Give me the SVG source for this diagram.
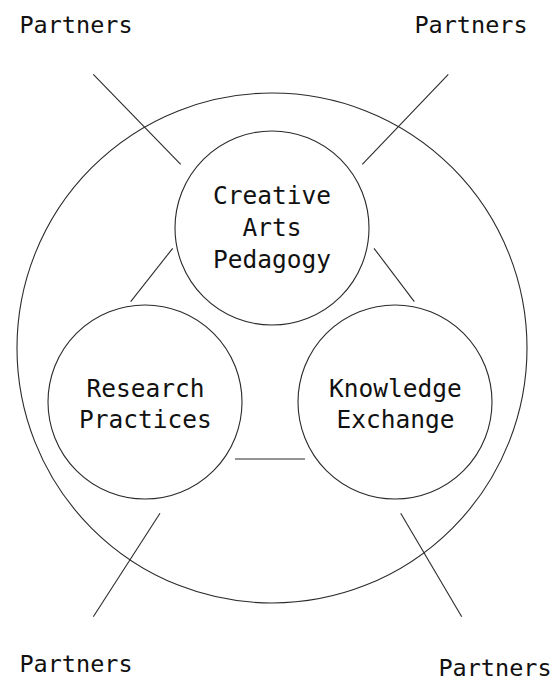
<svg xmlns="http://www.w3.org/2000/svg" width="556" height="683" viewBox="0 0 556 683">
<style>
.c{fill:none;stroke:#2a2a2a;stroke-width:1.1}
.l{stroke:#2a2a2a;stroke-width:1.1}
.t{font-family:"DejaVu Sans Mono","Liberation Mono",monospace;fill:#111;text-anchor:middle}
.p{font-size:23.5px}
.n{font-size:24.5px}
</style>
<rect width="556" height="683" fill="#fff"/>
<g id="outer"><circle class="c" cx="272" cy="348" r="255"/></g>
<g id="connectors">
<line class="l" x1="93.3" y1="74.3" x2="180.7" y2="164.3"/>
<line class="l" x1="448.3" y1="74.3" x2="362.3" y2="164.3"/>
<line class="l" x1="160" y1="513.3" x2="93.3" y2="616.7"/>
<line class="l" x1="400.7" y1="513.3" x2="461.7" y2="616.7"/>
<line class="l" x1="172.7" y1="248.3" x2="130.7" y2="301.7"/>
<line class="l" x1="374" y1="248.3" x2="414.3" y2="301.7"/>
<line class="l" x1="235" y1="459" x2="305" y2="459"/>
</g>
<g id="creative">
<circle class="c" cx="272" cy="228" r="97"/>
<text class="t n" x="272" y="204">Creative</text>
<text class="t n" x="272" y="236">Arts</text>
<text class="t n" x="272" y="268">Pedagogy</text>
</g>
<g id="research">
<circle class="c" cx="145" cy="402" r="97"/>
<text class="t n" x="145.5" y="397">Research</text>
<text class="t n" x="145.5" y="428">Practices</text>
</g>
<g id="knowledge">
<circle class="c" cx="395" cy="402" r="97"/>
<text class="t n" x="395.5" y="397" fill="#2a2a2a">Knowledge</text>
<text class="t n" x="395.5" y="428" fill="#2a2a2a">Exchange</text>
</g>
<g id="partners-tl"><text class="t p" x="76" y="33">Partners</text></g>
<g id="partners-tr"><text class="t p" x="471" y="33">Partners</text></g>
<g id="partners-bl"><text class="t p" x="76" y="672">Partners</text></g>
<g id="partners-br"><text class="t p" x="495" y="675.5">Partners</text></g>
</svg>
